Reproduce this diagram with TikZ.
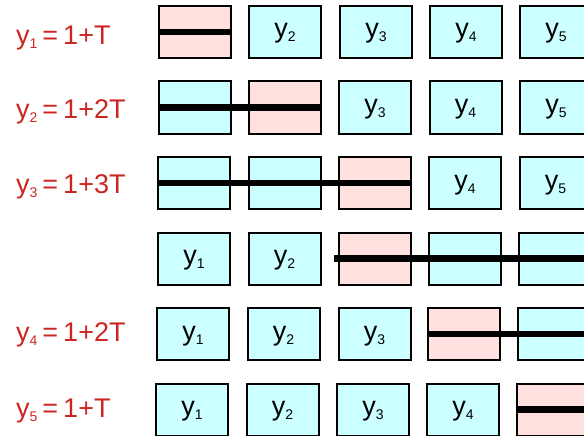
\documentclass[tikz,border=0pt]{standalone}
\usepackage{fontspec}
\setmainfont{Liberation Sans}
\definecolor{slotcyan}{RGB}{204,255,255}
\definecolor{slotpink}{RGB}{255,226,224}
\definecolor{costred}{RGB}{204,38,34}
\newcommand{\yy}[1]{y\raisebox{-4pt}{\fontsize{14}{14}\selectfont #1}}

\begin{document}
\begin{tikzpicture}[x=1pt,y=-1pt,every node/.style={font=\fontsize{27}{31}\selectfont},
  slot/.style={draw,line width=2pt,fill=slotcyan,minimum width=72pt,minimum height=52pt,
    inner sep=0pt,text height=14pt,text depth=2pt},
  busy/.style={slot,fill=slotpink},
  cost/.style={anchor=base west,text=costred,inner sep=0pt},
  bar/.style={line width=6.5pt}]
  \useasboundingbox (0,0) rectangle (584,436);
  \clip (0,0) rectangle (584,436);
  % y1
  \node[busy] (a1) at (195,32) {};
  \node[slot] (a2) at (285,32) {\yy2};
  \node[slot] (a3) at (376,32) {\yy3};
  \node[slot] (a4) at (466,32) {\yy4};
  \node[slot] (a5) at (556,32) {\yy5};
  \node[cost] (ca) at (16,45) {\yy1\hspace{5pt}=\hspace{5pt}1+T};
  \draw[bar] (a1.west) -- (a1.east);
  % y2
  \node[slot] (b1) at (194.5,107.5) {};
  \node[busy] (b2) at (285,107.5) {};
  \node[slot] (b3) at (375,107.5) {\yy3};
  \node[slot] (b4) at (465.5,107.5) {\yy4};
  \node[slot] (b5) at (556,107.5) {\yy5};
  \node[cost] (cb) at (16,118) {\yy2\hspace{5pt}=\hspace{5pt}1+2T};
  \draw[bar] (b1.west) -- (b2.east);
  % y3
  \node[slot] (c1) at (194,183) {};
  \node[slot] (c2) at (284.5,183) {};
  \node[busy] (c3) at (375,183) {};
  \node[slot] (c4) at (465,183) {\yy4};
  \node[slot] (c5) at (555.5,183) {\yy5};
  \node[cost] (cc) at (16,193) {\yy3\hspace{5pt}=\hspace{5pt}1+3T};
  \draw[bar] (c1.west) -- (c3.east);
  % no label
  \node[slot] (d1) at (194,258.5) {\yy1};
  \node[slot] (d2) at (284.5,258.5) {\yy2};
  \node[busy] (d3) at (375,258.5) {};
  \node[slot] (d4) at (465,258.5) {};
  \node[slot] (d5) at (555,258.5) {};
  \coordinate (d0) at (334,258.5);
  \coordinate (dz) at (600,258.5);
  \draw[bar] (d0) -- (dz);
  % y4
  \node[slot] (e1) at (193,334) {\yy1};
  \node[slot] (e2) at (283.5,334) {\yy2};
  \node[slot] (e3) at (374.5,334) {\yy3};
  \node[busy] (e4) at (464,334) {};
  \node[slot] (e5) at (554,334) {};
  \node[cost] (ce) at (16,341.5) {\yy4\hspace{5pt}=\hspace{5pt}1+2T};
  \coordinate (ez) at (600,334);
  \draw[bar] (e4.west) -- (ez);
  % y5
  \node[slot] (f1) at (192,409.5) {\yy1};
  \node[slot] (f2) at (282.5,409.5) {\yy2};
  \node[slot] (f3) at (373,409.5) {\yy3};
  \node[slot] (f4) at (463,409.5) {\yy4};
  \node[busy] (f5) at (553,409.5) {};
  \node[cost] (cf) at (16,417) {\yy5\hspace{5pt}=\hspace{5pt}1+T};
  \coordinate (fz) at (600,409.5);
  \draw[bar] (f5.west) -- (fz);
\end{tikzpicture}
\end{document}
